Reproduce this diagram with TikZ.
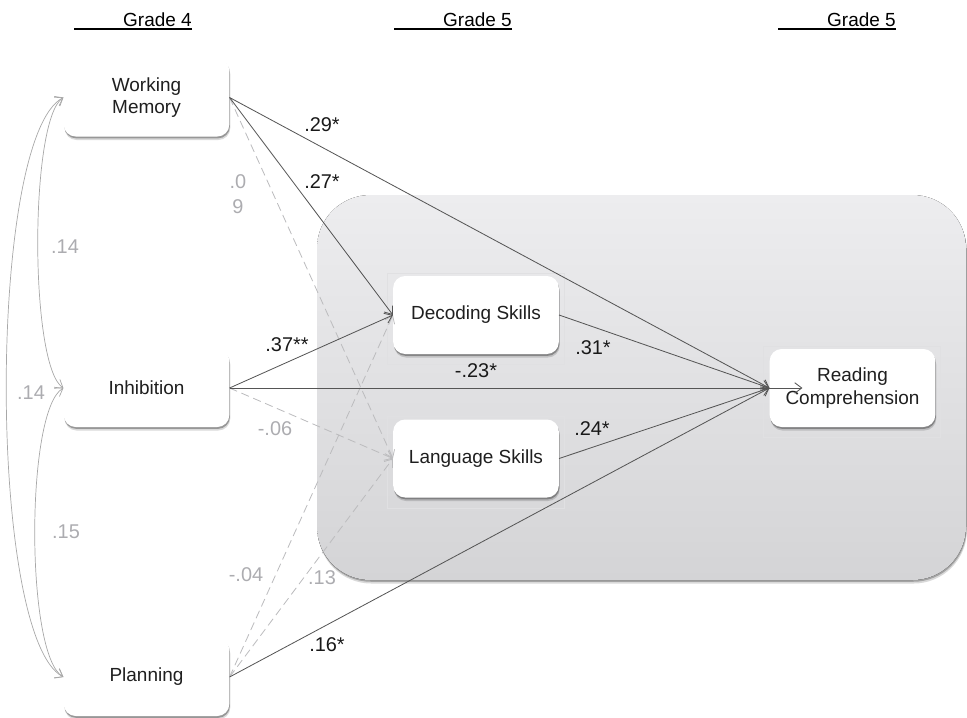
\documentclass[tikz,border=0pt]{standalone}
\usepackage{fontspec}
\setmainfont{Liberation Sans}
\usetikzlibrary{arrows.meta,shadows,calc}

\definecolor{edgegray}{RGB}{85,85,85}
\definecolor{dashgray}{RGB}{188,188,190}
\definecolor{lblgray}{RGB}{172,172,176}
\definecolor{corrgray}{RGB}{168,168,168}
\definecolor{paneltop}{RGB}{237,237,239}
\definecolor{panelbot}{RGB}{212,212,214}
\definecolor{framegray}{RGB}{224,224,226}

\begin{document}
\begin{tikzpicture}[x=0.03cm,y=-0.03cm,
    var node/.style={rectangle,rounded corners=0.36cm,fill=white,
      minimum width=4.97cm,minimum height=2.34cm,align=center,text=black!88,
      font=\fontsize{16.2}{19}\selectfont,
      drop shadow={shadow xshift=0.8pt,shadow yshift=-3pt,opacity=0.15,fill=black},
      drop shadow={shadow xshift=0.5pt,shadow yshift=-1.6pt,opacity=0.3,fill=black}},
    grade/.style={inner sep=0pt,anchor=base east,font=\fontsize{16.2}{19}\selectfont},
    coef/.style={font=\fontsize{17}{21}\selectfont,text=black!90,align=center},
    ncoef/.style={coef,text=lblgray},
    sig/.style={draw=edgegray,line width=0.7pt,-{Straight Barb[length=6pt,width=9pt]}},
    nonsig/.style={draw=dashgray,line width=0.7pt,dash pattern=on 7pt off 4pt,
      -{Straight Barb[length=6pt,width=9pt]}},
    corr/.style={draw=corrgray,line width=0.6pt,
      {Straight Barb[length=6pt,width=9pt]}-{Straight Barb[length=6pt,width=9pt]}},
    frame/.style={draw=framegray,line width=0.4pt}]

  \useasboundingbox (0,0) rectangle (967,717);

  % grade headers
  \node[grade] (g4) at (192,26) {Grade 4};
  \node[grade] (g5a) at (512,26) {Grade 5};
  \node[grade] (g5b) at (896,26) {Grade 5};
  \foreach \g in {g4,g5a,g5b}
    \draw[line width=1.6pt] ($(\g.base east)+(0,3)$) -- ++(-118,0);

  % grey panel behind the grade 5 measures
  \fill[top color=paneltop,bottom color=panelbot,rounded corners=1.6cm,
        drop shadow={shadow xshift=0.8pt,shadow yshift=-3pt,opacity=0.15,fill=black},
        drop shadow={shadow xshift=0.5pt,shadow yshift=-1.5pt,opacity=0.25,fill=black}]
    (317,195) rectangle (966,580);

  % measures
  \node[var node] (wm) at (146.5,97.5) {Working\\Memory};
  \node[var node] (inh) at (146.5,388) {Inhibition};
  \node[var node] (plan) at (146.5,677) {Planning};
  \node[var node] (dec) at (476,315) {Decoding Skills};
  \node[var node] (lang) at (476,458.5) {Language Skills};
  \node[var node] (rc) at (852.5,388) {Reading\\Comprehension};

  \foreach \n in {dec,lang,rc}
    \draw[frame] ($(\n.north west)+(-6,-3)$) rectangle ($(\n.south east)+(5,10)$);

  \coordinate (rcin) at ($(rc.west)+(33,0)$);

  % correlations
  \draw[corr] (wm.west) .. controls +(-34,22) and +(-34,-22) .. (inh.west);
  \draw[corr] (inh.west) .. controls +(-38,22) and +(-38,-22) .. (plan.west);
  \draw[corr] (wm.west) .. controls +(-76,40) and +(-76,-40) .. (plan.west);

  % paths
  \path (wm.east) edge[nonsig] (lang.west)
        (inh.east) edge[nonsig] (lang.west)
        (plan.east) edge[nonsig] (dec.west)
                    edge[nonsig] (lang.west);
  \path (wm.east) edge[sig] (rc.west)
                  edge[sig] (dec.west)
        (inh.east) edge[sig] (dec.west)
                   edge[sig] (rcin)
        (plan.east) edge[sig] (rc.west)
        (dec.east) edge[sig] (rc.west)
        (lang.east) edge[sig] (rc.west);

  % coefficients
  \node[coef] (c29) at (322,125) {.29*};
  \node[coef] (c27) at (322,182) {.27*};
  \node[coef] (c37) at (287,345) {.37**};
  \node[coef] (c23) at (476,371) {-.23*};
  \node[coef] (c16) at (327,645) {.16*};
  \node[coef] (c31) at (593,348) {.31*};
  \node[coef] (c24) at (592,429) {.24*};
  \node[ncoef] (c09) at (238,194) {.0\\9};
  \node[ncoef] (c06) at (275,429) {-.06};
  \node[ncoef] (c04) at (246,575) {-.04};
  \node[ncoef] (c13) at (322,578) {.13};
  \node[ncoef] (r14a) at (65,247) {.14};
  \node[ncoef] (r14b) at (31,393) {.14};
  \node[ncoef] (r15) at (66,532) {.15};
\end{tikzpicture}
\end{document}
